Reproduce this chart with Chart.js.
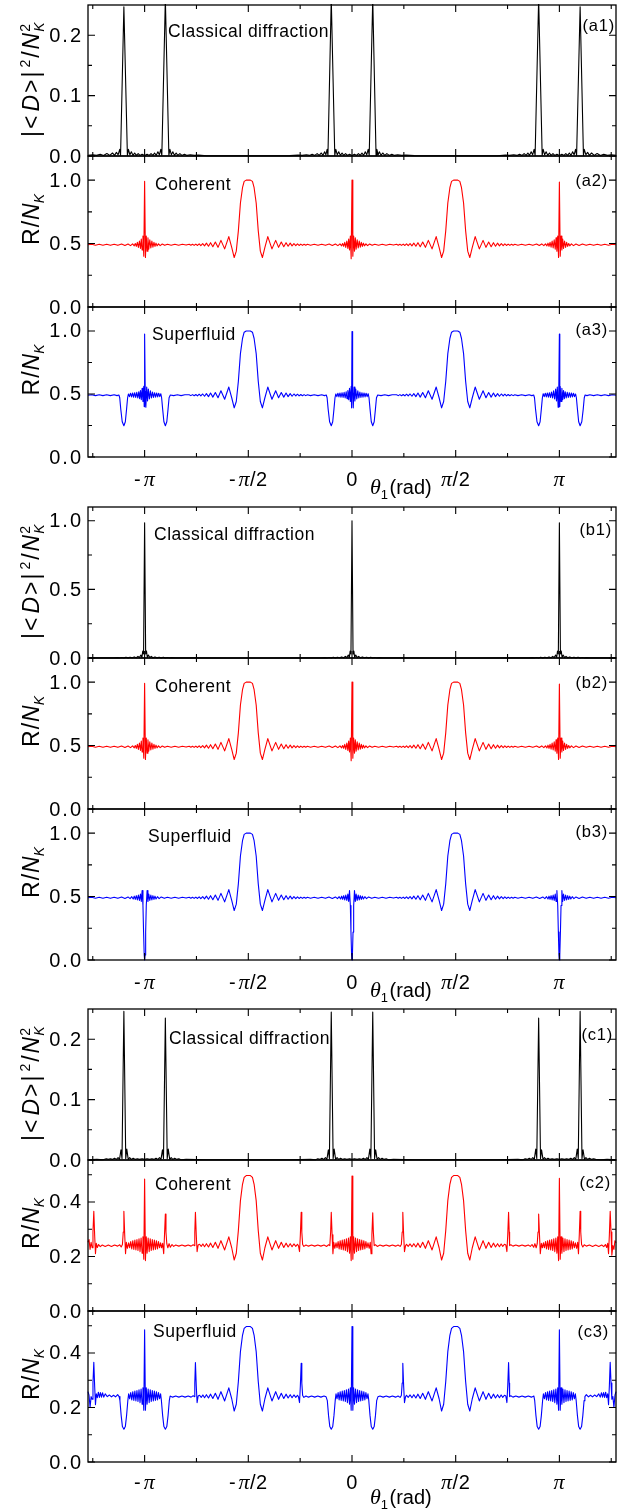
<!DOCTYPE html>
<html>
<head>
<meta charset="utf-8">
<script src="https://cdn.jsdelivr.net/npm/chart.js@4.4.1/dist/chart.umd.min.js"></script>
<style>
html,body{margin:0;padding:0;background:#fff;}
#wrap{position:relative;width:641px;height:1512px;overflow:hidden;background:#fff;}
#wrap canvas{position:absolute;left:0;}
</style>
</head>
<body>
<div id="wrap"></div>
<script>
// theta_1 is stored in units of pi
const X_MIN = -1.273, X_MAX = 1.273;
const xTickVals = [-1.25,-1,-0.75,-0.5,-0.25,0,0.25,0.5,0.75,1,1.25];
const xLabelVals = [-1,-0.5,0,0.5,1];
const xLabelText = ['-π','-π/2','0','π/2','π'];

const yTicksD = {major:[0,0.1,0.2], minor:[0.05,0.15]};
const yTicksR = {major:[0,0.5,1.0], minor:[0.25,0.75]};
const yTicksC = {major:[0,0.2,0.4], minor:[0.1,0.3,0.5]};

// classical diffraction, group a
const a1Pts = [
[-1.273,0.001],[-1.25,0.002],[-1.232,0.001],[-1.214,0.003],[-1.198,0.001],[-1.182,0.004],[-1.168,0.001],[-1.155,0.005],[-1.145,0.001],[-1.136,0.006],[-1.128,0.002],[-1.12,0.011],[-1.116,0.001],
[-1.1,0.247],
[-1.083,0.001],[-1.078,0.011],[-1.071,0.002],[-1.064,0.007],[-1.056,0.001],[-1.048,0.005],[-1.04,0.001],[-1.031,0.004],[-1.022,0.001],[-1.012,0.003],[-1.0,0.001],[-0.988,0.003],[-0.978,0.001],[-0.969,0.004],[-0.96,0.001],[-0.952,0.005],[-0.944,0.001],[-0.936,0.007],[-0.929,0.002],[-0.922,0.011],[-0.917,0.001],
[-0.9,0.26],
[-0.883,0.001],[-0.878,0.011],[-0.871,0.002],[-0.864,0.007],[-0.856,0.001],[-0.848,0.005],[-0.84,0.001],[-0.83,0.004],[-0.82,0.001],[-0.808,0.003],[-0.795,0.001],[-0.78,0.002],[-0.76,0.001],[-0.74,0.0015],[-0.7,0.0005],[-0.6,0.0003],[-0.5,0.0003],[-0.4,0.0003],[-0.3,0.0006],
[-0.26,0.0015],[-0.24,0.001],[-0.22,0.002],[-0.205,0.001],[-0.192,0.003],[-0.18,0.001],[-0.168,0.004],[-0.158,0.001],[-0.148,0.005],[-0.14,0.001],[-0.132,0.007],[-0.126,0.002],[-0.12,0.011],[-0.116,0.001],
[-0.1,0.26],
[-0.083,0.001],[-0.078,0.011],[-0.071,0.002],[-0.064,0.007],[-0.056,0.001],[-0.048,0.005],[-0.04,0.001],[-0.031,0.004],[-0.022,0.001],[-0.012,0.003],[0.0,0.001],[0.012,0.003],[0.022,0.001],[0.031,0.004],[0.04,0.001],[0.048,0.005],[0.056,0.001],[0.064,0.007],[0.071,0.002],[0.078,0.011],[0.083,0.001],
[0.1,0.26],
[0.116,0.001],[0.12,0.011],[0.126,0.002],[0.132,0.007],[0.14,0.001],[0.148,0.005],[0.158,0.001],[0.168,0.004],[0.18,0.001],[0.192,0.003],[0.205,0.001],[0.22,0.002],[0.24,0.001],[0.26,0.0015],[0.3,0.0006],[0.4,0.0003],[0.5,0.0003],[0.6,0.0003],[0.7,0.0005],[0.74,0.0015],[0.76,0.001],[0.78,0.002],[0.795,0.001],[0.808,0.003],[0.82,0.001],[0.83,0.004],[0.84,0.001],[0.848,0.005],[0.856,0.001],[0.864,0.007],[0.871,0.002],[0.878,0.011],[0.883,0.001],
[0.9,0.26],
[0.917,0.001],[0.922,0.011],[0.929,0.002],[0.936,0.007],[0.944,0.001],[0.952,0.005],[0.96,0.001],[0.969,0.004],[0.978,0.001],[0.988,0.003],[1.0,0.001],[1.012,0.003],[1.022,0.001],[1.031,0.004],[1.04,0.001],[1.048,0.005],[1.056,0.001],[1.064,0.007],[1.071,0.002],[1.078,0.011],[1.083,0.001],
[1.1,0.247],
[1.116,0.001],[1.12,0.011],[1.128,0.002],[1.136,0.006],[1.145,0.001],[1.155,0.005],[1.168,0.001],[1.182,0.004],[1.198,0.001],[1.214,0.003],[1.232,0.001],[1.25,0.002],[1.273,0.001]
];

// classical diffraction, group b
const b1Pts = [
[-1.273,0.001],[-1.22,0.001],[-1.18,0.002],[-1.15,0.001],[-1.13,0.003],[-1.12,0.001],[-1.11,0.004],[-1.1,0.001],[-1.09,0.005],[-1.08,0.001],[-1.07,0.006],[-1.06,0.002],[-1.05,0.008],[-1.04,0.002],[-1.032,0.012],[-1.025,0.003],[-1.018,0.022],[-1.013,0.004],[-1.009,0.05],[-1.005,0.03],
[-1.0,0.985],
[-0.995,0.03],[-0.991,0.05],[-0.987,0.004],[-0.982,0.022],[-0.975,0.003],[-0.968,0.012],[-0.96,0.002],[-0.95,0.008],[-0.94,0.002],[-0.93,0.006],[-0.92,0.001],[-0.91,0.005],[-0.9,0.001],[-0.89,0.004],[-0.88,0.001],[-0.87,0.003],[-0.85,0.001],[-0.82,0.002],[-0.78,0.001],[-0.6,0.0005],[-0.4,0.0005],[-0.22,0.001],[-0.18,0.002],[-0.15,0.001],[-0.13,0.003],[-0.12,0.001],[-0.11,0.004],[-0.1,0.001],[-0.09,0.005],[-0.08,0.001],[-0.07,0.006],[-0.06,0.002],[-0.05,0.008],[-0.04,0.002],[-0.032,0.012],[-0.025,0.003],[-0.018,0.022],[-0.013,0.004],[-0.009,0.05],[-0.005,0.03],
[0.0,1.0],
[0.005,0.03],[0.009,0.05],[0.013,0.004],[0.018,0.022],[0.025,0.003],[0.032,0.012],[0.04,0.002],[0.05,0.008],[0.06,0.002],[0.07,0.006],[0.08,0.001],[0.09,0.005],[0.1,0.001],[0.11,0.004],[0.12,0.001],[0.13,0.003],[0.15,0.001],[0.18,0.002],[0.22,0.001],[0.4,0.0005],[0.6,0.0005],[0.78,0.001],[0.82,0.002],[0.85,0.001],[0.87,0.003],[0.88,0.001],[0.89,0.004],[0.9,0.001],[0.91,0.005],[0.92,0.001],[0.93,0.006],[0.94,0.002],[0.95,0.008],[0.96,0.002],[0.968,0.012],[0.975,0.003],[0.982,0.022],[0.987,0.004],[0.991,0.05],[0.995,0.03],
[1.0,0.985],
[1.005,0.03],[1.009,0.05],[1.013,0.004],[1.018,0.022],[1.025,0.003],[1.032,0.012],[1.04,0.002],[1.05,0.008],[1.06,0.002],[1.07,0.006],[1.08,0.001],[1.09,0.005],[1.1,0.001],[1.11,0.004],[1.12,0.001],[1.13,0.003],[1.15,0.001],[1.18,0.002],[1.22,0.001],[1.273,0.001]
];

// classical diffraction, group c
const c1Pts = [
[-1.273,0.0005],[-1.23,0.001],[-1.2,0.0005],[-1.185,0.002],[-1.175,0.001],[-1.165,0.002],[-1.155,0.001],[-1.145,0.003],[-1.136,0.001],[-1.128,0.004],[-1.121,0.001],[-1.114,0.017],[-1.109,0.002],
[-1.1,0.246],
[-1.091,0.002],[-1.086,0.018],[-1.079,0.001],[-1.072,0.004],[-1.064,0.001],[-1.055,0.003],[-1.045,0.001],[-1.035,0.002],[-1.025,0.001],[-1.012,0.002],[-1.0,0.001],[-0.988,0.002],[-0.975,0.001],[-0.965,0.002],[-0.955,0.001],[-0.945,0.003],[-0.936,0.001],[-0.928,0.004],[-0.921,0.001],[-0.914,0.017],[-0.909,0.002],
[-0.9,0.235],
[-0.891,0.002],[-0.886,0.018],[-0.879,0.001],[-0.872,0.004],[-0.864,0.001],[-0.855,0.003],[-0.845,0.001],[-0.835,0.002],[-0.825,0.0005],[-0.8,0.001],[-0.7,0.0005],[-0.5,0.0005],[-0.3,0.0005],[-0.2,0.001],[-0.175,0.0005],[-0.165,0.002],[-0.155,0.001],[-0.145,0.003],[-0.136,0.001],[-0.128,0.004],[-0.121,0.001],[-0.114,0.017],[-0.109,0.002],
[-0.1,0.245],
[-0.091,0.002],[-0.086,0.018],[-0.079,0.001],[-0.072,0.004],[-0.064,0.001],[-0.055,0.003],[-0.045,0.001],[-0.035,0.002],[-0.025,0.001],[-0.012,0.002],[0.0,0.001],[0.012,0.002],[0.025,0.001],[0.035,0.002],[0.045,0.001],[0.055,0.003],[0.064,0.001],[0.072,0.004],[0.079,0.001],[0.086,0.018],[0.091,0.002],
[0.1,0.245],
[0.109,0.002],[0.114,0.017],[0.121,0.001],[0.128,0.004],[0.136,0.001],[0.145,0.003],[0.155,0.001],[0.165,0.002],[0.175,0.0005],[0.2,0.001],[0.3,0.0005],[0.5,0.0005],[0.7,0.0005],[0.8,0.001],[0.825,0.0005],[0.835,0.002],[0.845,0.001],[0.855,0.003],[0.864,0.001],[0.872,0.004],[0.879,0.001],[0.886,0.018],[0.891,0.002],
[0.9,0.235],
[0.909,0.002],[0.914,0.017],[0.921,0.001],[0.928,0.004],[0.936,0.001],[0.945,0.003],[0.955,0.001],[0.965,0.002],[0.975,0.001],[0.988,0.002],[1.0,0.001],[1.012,0.002],[1.025,0.001],[1.035,0.002],[1.045,0.001],[1.055,0.003],[1.064,0.001],[1.072,0.004],[1.079,0.001],[1.086,0.018],[1.091,0.002],
[1.1,0.246],
[1.109,0.002],[1.114,0.017],[1.121,0.001],[1.128,0.004],[1.136,0.001],[1.145,0.003],[1.155,0.001],[1.165,0.002],[1.175,0.001],[1.2,0.0005],[1.23,0.001],[1.273,0.0005]
];

// plateau around -pi/2 and pi/2 (groups a and b)
const plateauNegAB = [
[-0.785,0.494],[-0.777,0.487],[-0.769,0.495],[-0.761,0.486],[-0.753,0.496],[-0.745,0.485],[-0.737,0.498],[-0.729,0.484],[-0.72,0.5],[-0.711,0.482],[-0.702,0.503],[-0.692,0.479],[-0.682,0.507],[-0.671,0.475],[-0.659,0.512],[-0.646,0.47],[-0.632,0.525],[-0.614,0.458],[-0.594,0.555],[-0.58,0.47],[-0.568,0.39],[-0.558,0.44],[-0.548,0.6],[-0.538,0.82],[-0.528,0.94],[-0.52,0.99],[-0.51,1.0],[-0.49,1.0],[-0.48,0.99],[-0.472,0.94],[-0.462,0.82],[-0.452,0.6],[-0.442,0.44],[-0.432,0.39],[-0.42,0.47],[-0.406,0.555],[-0.386,0.458],[-0.368,0.525],[-0.354,0.47],[-0.341,0.512],[-0.329,0.475],[-0.318,0.507],[-0.308,0.479],[-0.298,0.503],[-0.289,0.482],[-0.28,0.5],[-0.271,0.484],[-0.263,0.498],[-0.255,0.485],[-0.247,0.496],[-0.239,0.486],[-0.231,0.495],[-0.223,0.487],[-0.215,0.494]
];
const plateauPosAB = [
[0.215,0.494],[0.223,0.487],[0.231,0.495],[0.239,0.486],[0.247,0.496],[0.255,0.485],[0.263,0.498],[0.271,0.484],[0.28,0.5],[0.289,0.482],[0.298,0.503],[0.308,0.479],[0.318,0.507],[0.329,0.475],[0.341,0.512],[0.354,0.47],[0.368,0.525],[0.386,0.458],[0.406,0.555],[0.42,0.47],[0.432,0.39],[0.442,0.44],[0.452,0.6],[0.462,0.82],[0.472,0.94],[0.48,0.99],[0.49,1.0],[0.51,1.0],[0.52,0.99],[0.528,0.94],[0.538,0.82],[0.548,0.6],[0.558,0.44],[0.568,0.39],[0.58,0.47],[0.594,0.555],[0.614,0.458],[0.632,0.525],[0.646,0.47],[0.659,0.512],[0.671,0.475],[0.682,0.507],[0.692,0.479],[0.702,0.503],[0.711,0.482],[0.72,0.5],[0.729,0.484],[0.737,0.498],[0.745,0.485],[0.753,0.496],[0.761,0.486],[0.769,0.495],[0.777,0.487],[0.785,0.494]
];

// coherent, groups a and b
const coherentAB = [
[-1.273,0.49],[-1.255,0.494],[-1.237,0.487],[-1.219,0.494],[-1.201,0.487],[-1.183,0.495],[-1.165,0.486],[-1.147,0.495],[-1.129,0.486],[-1.111,0.496],[-1.095,0.485],[-1.08,0.497],[-1.068,0.484],[-1.058,0.498],[-1.05,0.482],[-1.045,0.5],[-1.04,0.478],[-1.035,0.51],[-1.03,0.47],[-1.025,0.52],[-1.02,0.462],[-1.016,0.535],[-1.012,0.45],[-1.008,0.56],[-1.004,0.40],[-1.0,0.99],[-0.996,0.39],[-0.992,0.56],[-0.988,0.44],[-0.984,0.545],[-0.98,0.455],[-0.975,0.53],[-0.97,0.465],[-0.965,0.52],[-0.96,0.472],[-0.955,0.51],[-0.95,0.478],[-0.945,0.503],[-0.94,0.482],[-0.933,0.498],[-0.925,0.484],[-0.915,0.496],[-0.903,0.486],[-0.89,0.495],[-0.872,0.487],[-0.854,0.494],[-0.836,0.487],[-0.818,0.494],[-0.8,0.488],
...plateauNegAB,
[-0.2,0.487],[-0.182,0.494],[-0.164,0.487],[-0.146,0.495],[-0.128,0.486],[-0.11,0.496],[-0.095,0.485],[-0.08,0.497],[-0.068,0.484],[-0.058,0.498],[-0.05,0.482],[-0.045,0.5],[-0.04,0.478],[-0.035,0.51],[-0.03,0.47],[-0.025,0.52],[-0.02,0.462],[-0.016,0.535],[-0.012,0.45],[-0.008,0.56],[-0.004,0.38],[0.0,1.0],[0.004,0.40],[0.008,0.56],[0.012,0.44],[0.016,0.545],[0.02,0.455],[0.025,0.53],[0.03,0.465],[0.035,0.52],[0.04,0.472],[0.045,0.51],[0.05,0.478],[0.055,0.503],[0.06,0.482],[0.067,0.498],[0.075,0.484],[0.085,0.496],[0.097,0.486],[0.11,0.495],[0.128,0.487],[0.146,0.494],[0.164,0.487],[0.182,0.494],[0.2,0.488],
...plateauPosAB,
[0.8,0.487],[0.818,0.494],[0.836,0.487],[0.854,0.495],[0.872,0.486],[0.89,0.496],[0.903,0.485],[0.915,0.497],[0.925,0.484],[0.933,0.498],[0.94,0.482],[0.945,0.503],[0.95,0.478],[0.955,0.51],[0.96,0.472],[0.965,0.52],[0.97,0.465],[0.975,0.53],[0.98,0.455],[0.984,0.545],[0.988,0.44],[0.992,0.56],[0.996,0.39],[1.0,0.985],[1.004,0.40],[1.008,0.56],[1.012,0.45],[1.016,0.535],[1.02,0.462],[1.025,0.52],[1.03,0.47],[1.035,0.51],[1.04,0.478],[1.045,0.5],[1.05,0.482],[1.058,0.498],[1.068,0.484],[1.08,0.497],[1.095,0.485],[1.111,0.496],[1.129,0.486],[1.147,0.495],[1.165,0.486],[1.183,0.495],[1.201,0.487],[1.219,0.494],[1.237,0.487],[1.255,0.494],[1.273,0.49]
];

// superfluid, group a
const superA = [
[-1.273,0.49],[-1.255,0.494],[-1.237,0.487],[-1.219,0.494],[-1.201,0.487],[-1.183,0.494],[-1.165,0.487],[-1.147,0.494],[-1.133,0.487],[-1.124,0.492],
[-1.12,0.47],[-1.115,0.38],[-1.108,0.28],[-1.1,0.248],[-1.093,0.28],[-1.087,0.38],[-1.082,0.47],
[-1.078,0.5],[-1.073,0.479],[-1.068,0.506],[-1.063,0.477],[-1.058,0.508],[-1.053,0.474],[-1.048,0.51],[-1.043,0.472],[-1.038,0.513],[-1.033,0.468],[-1.028,0.518],[-1.024,0.462],[-1.02,0.527],[-1.016,0.455],[-1.012,0.545],[-1.008,0.44],[-1.004,0.56],[-1.002,0.4],[-1.0,0.975],[-0.997,0.52],[-0.994,0.395],[-0.99,0.555],[-0.986,0.445],[-0.982,0.54],[-0.977,0.46],[-0.972,0.525],[-0.967,0.468],[-0.962,0.515],[-0.957,0.472],[-0.952,0.51],[-0.947,0.475],[-0.942,0.508],[-0.937,0.477],[-0.932,0.506],[-0.927,0.479],[-0.922,0.502],
[-0.918,0.47],[-0.913,0.38],[-0.907,0.28],[-0.9,0.248],[-0.893,0.28],[-0.887,0.38],[-0.882,0.47],
[-0.876,0.492],[-0.86,0.487],[-0.842,0.494],[-0.824,0.487],[-0.806,0.494],
...plateauNegAB,
[-0.2,0.487],[-0.182,0.494],[-0.164,0.487],[-0.146,0.494],[-0.133,0.487],[-0.124,0.492],
[-0.12,0.47],[-0.115,0.38],[-0.108,0.28],[-0.1,0.248],[-0.093,0.28],[-0.087,0.38],[-0.082,0.47],
[-0.078,0.5],[-0.073,0.479],[-0.068,0.506],[-0.063,0.477],[-0.058,0.508],[-0.053,0.474],[-0.048,0.51],[-0.043,0.472],[-0.038,0.513],[-0.033,0.468],[-0.028,0.518],[-0.024,0.462],[-0.02,0.527],[-0.016,0.455],[-0.012,0.545],[-0.008,0.44],[-0.004,0.56],[-0.002,0.39],[0.0,0.995],[0.003,0.52],[0.006,0.39],[0.01,0.555],[0.014,0.445],[0.018,0.54],[0.023,0.46],[0.028,0.525],[0.033,0.468],[0.038,0.515],[0.043,0.472],[0.048,0.51],[0.053,0.475],[0.058,0.508],[0.063,0.477],[0.068,0.506],[0.073,0.479],[0.078,0.502],
[0.082,0.47],[0.087,0.38],[0.093,0.28],[0.1,0.248],[0.107,0.28],[0.113,0.38],[0.118,0.47],
[0.124,0.492],[0.14,0.487],[0.158,0.494],[0.176,0.487],[0.194,0.494],
...plateauPosAB,
[0.8,0.487],[0.818,0.494],[0.836,0.487],[0.854,0.494],[0.867,0.487],[0.876,0.492],
[0.88,0.47],[0.885,0.38],[0.892,0.28],[0.9,0.248],[0.907,0.28],[0.913,0.38],[0.918,0.47],
[0.922,0.502],[0.927,0.479],[0.932,0.506],[0.937,0.477],[0.942,0.508],[0.947,0.475],[0.952,0.51],[0.957,0.472],[0.962,0.515],[0.967,0.468],[0.972,0.525],[0.977,0.46],[0.982,0.54],[0.986,0.445],[0.99,0.555],[0.994,0.395],[0.997,0.52],[1.0,0.975],[1.002,0.4],[1.004,0.56],[1.008,0.44],[1.012,0.545],[1.016,0.455],[1.02,0.527],[1.024,0.462],[1.028,0.518],[1.033,0.468],[1.038,0.513],[1.043,0.472],[1.048,0.51],[1.053,0.474],[1.058,0.508],[1.063,0.477],[1.068,0.506],[1.073,0.479],[1.078,0.5],
[1.082,0.47],[1.087,0.38],[1.093,0.28],[1.1,0.248],[1.108,0.28],[1.115,0.38],[1.12,0.47],
[1.124,0.492],[1.133,0.487],[1.147,0.494],[1.165,0.487],[1.183,0.494],[1.201,0.487],[1.219,0.494],[1.237,0.487],[1.255,0.494],[1.273,0.49]
];

// superfluid, group b
const superB = [
[-1.273,0.49],[-1.255,0.494],[-1.237,0.487],[-1.219,0.494],[-1.201,0.487],[-1.183,0.495],[-1.165,0.486],[-1.147,0.495],[-1.129,0.486],[-1.111,0.496],[-1.095,0.485],[-1.08,0.497],[-1.07,0.484],[-1.062,0.499],[-1.055,0.481],
[-1.05,0.503],[-1.045,0.478],[-1.04,0.507],[-1.035,0.474],[-1.03,0.512],[-1.025,0.47],[-1.02,0.52],[-1.016,0.462],[-1.012,0.548],[-1.008,0.43],[-1.005,0.22],[-1.002,0.04],[-1.0,0.0],[-0.998,0.04],[-0.995,0.22],[-0.992,0.43],[-0.988,0.548],[-0.984,0.462],[-0.98,0.52],[-0.975,0.47],[-0.97,0.512],[-0.965,0.474],[-0.96,0.507],[-0.955,0.478],[-0.95,0.503],[-0.945,0.481],[-0.938,0.499],[-0.93,0.484],[-0.92,0.497],[-0.905,0.486],
[-0.89,0.495],[-0.872,0.487],[-0.854,0.494],[-0.836,0.487],[-0.818,0.494],[-0.8,0.488],
...plateauNegAB,
[-0.2,0.487],[-0.182,0.494],[-0.164,0.487],[-0.146,0.495],[-0.128,0.486],[-0.111,0.496],[-0.095,0.485],[-0.08,0.497],[-0.07,0.484],[-0.062,0.499],[-0.055,0.481],
[-0.05,0.503],[-0.045,0.478],[-0.04,0.507],[-0.035,0.474],[-0.03,0.512],[-0.025,0.47],[-0.02,0.52],[-0.016,0.462],[-0.012,0.548],[-0.008,0.43],[-0.005,0.22],[-0.002,0.04],[0.0,0.0],[0.002,0.04],[0.005,0.22],[0.008,0.43],[0.012,0.548],[0.016,0.462],[0.02,0.52],[0.025,0.47],[0.03,0.512],[0.035,0.474],[0.04,0.507],[0.045,0.478],[0.05,0.503],[0.055,0.481],[0.062,0.499],[0.07,0.484],[0.08,0.497],[0.095,0.486],
[0.11,0.495],[0.128,0.487],[0.146,0.494],[0.164,0.487],[0.182,0.494],[0.2,0.488],
...plateauPosAB,
[0.8,0.487],[0.818,0.494],[0.836,0.487],[0.854,0.495],[0.872,0.486],[0.889,0.496],[0.905,0.485],[0.92,0.497],[0.93,0.484],[0.938,0.499],[0.945,0.481],
[0.95,0.503],[0.955,0.478],[0.96,0.507],[0.965,0.474],[0.97,0.512],[0.975,0.47],[0.98,0.52],[0.984,0.462],[0.988,0.548],[0.992,0.43],[0.995,0.22],[0.998,0.04],[1.0,0.0],[1.002,0.04],[1.005,0.22],[1.008,0.43],[1.012,0.548],[1.016,0.462],[1.02,0.52],[1.025,0.47],[1.03,0.512],[1.035,0.474],[1.04,0.507],[1.045,0.478],[1.05,0.503],[1.055,0.481],[1.062,0.499],[1.07,0.484],[1.08,0.497],[1.095,0.485],[1.111,0.496],[1.129,0.486],[1.147,0.495],[1.165,0.486],[1.183,0.495],[1.201,0.487],[1.219,0.494],[1.237,0.487],[1.255,0.494],[1.273,0.49]
];

// plateau around -pi/2 and pi/2 (group c)
const plateauNegC = [
[-0.742,0.242],[-0.735,0.245],[-0.727,0.237],[-0.719,0.246],[-0.711,0.236],[-0.702,0.247],[-0.692,0.235],[-0.682,0.249],[-0.671,0.233],[-0.659,0.252],[-0.646,0.23],[-0.632,0.258],[-0.614,0.224],[-0.594,0.272],[-0.58,0.232],[-0.568,0.187],[-0.558,0.212],[-0.548,0.295],[-0.538,0.405],[-0.528,0.465],[-0.52,0.49],[-0.51,0.497],[-0.49,0.497],[-0.48,0.49],[-0.472,0.465],[-0.462,0.405],[-0.452,0.295],[-0.442,0.212],[-0.432,0.187],[-0.42,0.232],[-0.406,0.272],[-0.386,0.224],[-0.368,0.258],[-0.354,0.23],[-0.341,0.252],[-0.329,0.233],[-0.318,0.249],[-0.308,0.235],[-0.298,0.247],[-0.289,0.236],[-0.28,0.246],[-0.271,0.237],[-0.263,0.245],[-0.258,0.239]
];
const plateauPosC = [
[0.258,0.239],[0.263,0.245],[0.271,0.237],[0.28,0.246],[0.289,0.236],[0.298,0.247],[0.308,0.235],[0.318,0.249],[0.329,0.233],[0.341,0.252],[0.354,0.23],[0.368,0.258],[0.386,0.224],[0.406,0.272],[0.42,0.232],[0.432,0.187],[0.442,0.212],[0.452,0.295],[0.462,0.405],[0.472,0.465],[0.48,0.49],[0.49,0.497],[0.51,0.497],[0.52,0.49],[0.528,0.465],[0.538,0.405],[0.548,0.295],[0.558,0.212],[0.568,0.187],[0.58,0.232],[0.594,0.272],[0.614,0.224],[0.632,0.258],[0.646,0.23],[0.659,0.252],[0.671,0.233],[0.682,0.249],[0.692,0.235],[0.702,0.247],[0.711,0.236],[0.719,0.246],[0.727,0.237],[0.735,0.245],[0.742,0.242]
];

// coherent, group c
const coherentC = [
[-1.273,0.252],[-1.268,0.262],[-1.263,0.226],[-1.258,0.252],[-1.253,0.232],[-1.249,0.29],[-1.245,0.366],[-1.241,0.28],[-1.237,0.21],[-1.233,0.248],[-1.228,0.233],[-1.222,0.244],[-1.214,0.236],[-1.204,0.242],[-1.19,0.237],[-1.175,0.242],[-1.16,0.237],[-1.145,0.242],[-1.13,0.238],[-1.12,0.243],[-1.113,0.235],[-1.107,0.244],[-1.103,0.29],[-1.1,0.366],[-1.096,0.28],[-1.092,0.21],
[-1.088,0.252],[-1.083,0.23],[-1.077,0.25],[-1.072,0.232],[-1.067,0.255],[-1.062,0.228],[-1.057,0.258],[-1.052,0.226],[-1.047,0.26],[-1.042,0.224],[-1.037,0.262],[-1.032,0.222],[-1.027,0.265],[-1.022,0.218],[-1.017,0.268],[-1.012,0.212],[-1.008,0.272],[-1.004,0.19],[-1.0,0.484],[-0.996,0.185],[-0.992,0.272],[-0.988,0.212],[-0.983,0.268],[-0.978,0.218],[-0.973,0.265],[-0.968,0.222],[-0.963,0.262],[-0.958,0.224],[-0.953,0.26],[-0.948,0.226],[-0.943,0.258],[-0.938,0.228],[-0.933,0.255],[-0.928,0.232],[-0.923,0.25],[-0.918,0.232],[-0.913,0.248],
[-0.908,0.21],[-0.904,0.28],[-0.9,0.356],[-0.897,0.29],[-0.893,0.246],[-0.888,0.232],[-0.882,0.247],[-0.876,0.234],[-0.868,0.244],[-0.86,0.237],[-0.85,0.242],[-0.835,0.238],[-0.82,0.242],[-0.805,0.238],[-0.79,0.242],[-0.776,0.238],[-0.766,0.243],[-0.76,0.24],[-0.758,0.29],[-0.755,0.362],[-0.751,0.28],[-0.747,0.218],
...plateauNegC,
[-0.253,0.218],[-0.249,0.28],[-0.245,0.362],[-0.242,0.29],[-0.238,0.244],[-0.232,0.237],[-0.222,0.242],[-0.21,0.238],[-0.195,0.242],[-0.18,0.238],[-0.165,0.242],[-0.15,0.238],[-0.135,0.242],[-0.122,0.237],[-0.113,0.243],[-0.107,0.24],[-0.103,0.29],[-0.1,0.362],[-0.096,0.28],[-0.092,0.21],
[-0.088,0.252],[-0.083,0.23],[-0.077,0.25],[-0.072,0.232],[-0.067,0.255],[-0.062,0.228],[-0.057,0.258],[-0.052,0.226],[-0.047,0.26],[-0.042,0.224],[-0.037,0.262],[-0.032,0.222],[-0.027,0.265],[-0.022,0.218],[-0.017,0.268],[-0.012,0.212],[-0.008,0.272],[-0.004,0.185],[0.0,0.495],[0.004,0.19],[0.008,0.272],[0.012,0.212],[0.017,0.268],[0.022,0.218],[0.027,0.265],[0.032,0.222],[0.037,0.262],[0.042,0.224],[0.047,0.26],[0.052,0.226],[0.057,0.258],[0.062,0.228],[0.067,0.255],[0.072,0.232],[0.077,0.25],[0.083,0.23],[0.088,0.252],
[0.092,0.21],[0.096,0.28],[0.1,0.36],[0.103,0.29],[0.107,0.24],[0.113,0.243],[0.122,0.237],[0.135,0.242],[0.15,0.238],[0.165,0.242],[0.18,0.238],[0.195,0.242],[0.21,0.238],[0.222,0.242],[0.232,0.237],
[0.238,0.244],[0.242,0.29],[0.245,0.362],[0.249,0.28],[0.253,0.218],
...plateauPosC,
[0.747,0.218],[0.751,0.28],[0.755,0.362],[0.758,0.29],[0.76,0.24],[0.766,0.243],[0.776,0.238],[0.79,0.242],[0.805,0.238],[0.82,0.242],[0.835,0.238],[0.85,0.242],[0.86,0.237],[0.868,0.244],[0.876,0.234],[0.882,0.247],[0.888,0.232],[0.893,0.246],[0.897,0.29],[0.9,0.356],[0.904,0.28],[0.908,0.21],
[0.913,0.248],[0.918,0.232],[0.923,0.25],[0.928,0.232],[0.933,0.255],[0.938,0.228],[0.943,0.258],[0.948,0.226],[0.953,0.26],[0.958,0.224],[0.963,0.262],[0.968,0.222],[0.973,0.265],[0.978,0.218],[0.983,0.268],[0.988,0.212],[0.992,0.272],[0.996,0.185],[1.0,0.487],[1.004,0.19],[1.008,0.272],[1.012,0.212],[1.017,0.268],[1.022,0.218],[1.027,0.265],[1.032,0.222],[1.037,0.262],[1.042,0.224],[1.047,0.26],[1.052,0.226],[1.057,0.258],[1.062,0.228],[1.067,0.255],[1.072,0.232],[1.077,0.25],[1.083,0.23],[1.088,0.252],
[1.092,0.21],[1.096,0.28],[1.1,0.366],[1.103,0.29],[1.107,0.244],[1.113,0.235],[1.12,0.243],[1.13,0.238],[1.145,0.242],[1.16,0.237],[1.175,0.242],[1.19,0.237],[1.204,0.242],[1.214,0.236],[1.222,0.244],[1.228,0.233],[1.233,0.248],[1.237,0.21],[1.241,0.28],[1.245,0.366],[1.249,0.29],[1.253,0.205],[1.258,0.24],[1.263,0.226],[1.268,0.258],[1.273,0.25]
];

// superfluid, group c
const superC = [
[-1.273,0.258],[-1.268,0.245],[-1.263,0.2],[-1.258,0.24],[-1.253,0.23],[-1.249,0.29],[-1.245,0.366],[-1.241,0.28],[-1.237,0.21],[-1.233,0.25],[-1.228,0.236],[-1.223,0.256],[-1.218,0.237],[-1.213,0.255],[-1.208,0.238],[-1.203,0.254],[-1.197,0.238],[-1.19,0.25],[-1.18,0.24],[-1.17,0.246],[-1.16,0.239],[-1.15,0.245],[-1.14,0.239],[-1.13,0.247],[-1.123,0.24],
[-1.119,0.225],[-1.113,0.17],[-1.107,0.13],[-1.1,0.12],[-1.093,0.13],[-1.087,0.17],[-1.081,0.225],
[-1.077,0.25],[-1.072,0.232],[-1.067,0.255],[-1.062,0.228],[-1.057,0.258],[-1.052,0.226],[-1.047,0.26],[-1.042,0.224],[-1.037,0.262],[-1.032,0.222],[-1.027,0.265],[-1.022,0.218],[-1.017,0.268],[-1.012,0.212],[-1.008,0.272],[-1.004,0.19],[-1.0,0.485],[-0.996,0.19],[-0.992,0.272],[-0.988,0.212],[-0.983,0.268],[-0.978,0.218],[-0.973,0.265],[-0.968,0.222],[-0.963,0.262],[-0.958,0.224],[-0.953,0.26],[-0.948,0.226],[-0.943,0.258],[-0.938,0.228],[-0.933,0.255],[-0.928,0.232],[-0.923,0.25],
[-0.919,0.225],[-0.913,0.17],[-0.907,0.13],[-0.9,0.12],[-0.893,0.13],[-0.887,0.17],[-0.881,0.225],
[-0.877,0.242],[-0.865,0.238],[-0.85,0.242],[-0.835,0.238],[-0.82,0.242],[-0.805,0.238],[-0.79,0.242],[-0.776,0.238],[-0.766,0.243],[-0.76,0.24],[-0.758,0.29],[-0.755,0.365],[-0.751,0.28],[-0.747,0.218],
...plateauNegC,
[-0.253,0.218],[-0.249,0.28],[-0.245,0.362],[-0.242,0.29],[-0.238,0.244],[-0.232,0.237],[-0.222,0.242],[-0.21,0.238],[-0.195,0.242],[-0.18,0.238],[-0.165,0.242],[-0.15,0.238],[-0.135,0.242],[-0.125,0.239],
[-0.119,0.225],[-0.113,0.17],[-0.107,0.13],[-0.1,0.12],[-0.093,0.13],[-0.087,0.17],[-0.081,0.225],
[-0.077,0.25],[-0.072,0.232],[-0.067,0.255],[-0.062,0.228],[-0.057,0.258],[-0.052,0.226],[-0.047,0.26],[-0.042,0.224],[-0.037,0.262],[-0.032,0.222],[-0.027,0.265],[-0.022,0.218],[-0.017,0.268],[-0.012,0.212],[-0.008,0.272],[-0.004,0.19],[0.0,0.497],[0.004,0.19],[0.008,0.272],[0.012,0.212],[0.017,0.268],[0.022,0.218],[0.027,0.265],[0.032,0.222],[0.037,0.262],[0.042,0.224],[0.047,0.26],[0.052,0.226],[0.057,0.258],[0.062,0.228],[0.067,0.255],[0.072,0.232],[0.077,0.25],
[0.081,0.225],[0.087,0.17],[0.093,0.13],[0.1,0.12],[0.107,0.13],[0.113,0.17],[0.119,0.225],
[0.125,0.239],[0.135,0.242],[0.15,0.238],[0.165,0.242],[0.18,0.238],[0.195,0.242],[0.21,0.238],[0.222,0.242],[0.232,0.237],
[0.238,0.244],[0.242,0.29],[0.245,0.362],[0.249,0.28],[0.253,0.218],
...plateauPosC,
[0.747,0.218],[0.751,0.28],[0.755,0.365],[0.758,0.29],[0.76,0.24],[0.766,0.243],[0.776,0.238],[0.79,0.242],[0.805,0.238],[0.82,0.242],[0.835,0.238],[0.85,0.242],[0.865,0.238],[0.877,0.242],
[0.881,0.225],[0.887,0.17],[0.893,0.13],[0.9,0.12],[0.907,0.13],[0.913,0.17],[0.919,0.225],
[0.923,0.25],[0.928,0.232],[0.933,0.255],[0.938,0.228],[0.943,0.258],[0.948,0.226],[0.953,0.26],[0.958,0.224],[0.963,0.262],[0.968,0.222],[0.973,0.265],[0.978,0.218],[0.983,0.268],[0.988,0.212],[0.992,0.272],[0.996,0.19],[1.0,0.485],[1.004,0.19],[1.008,0.272],[1.012,0.212],[1.017,0.268],[1.022,0.218],[1.027,0.265],[1.032,0.222],[1.037,0.262],[1.042,0.224],[1.047,0.26],[1.052,0.226],[1.057,0.258],[1.062,0.228],[1.067,0.255],[1.072,0.232],[1.077,0.25],
[1.081,0.225],[1.087,0.17],[1.093,0.13],[1.1,0.12],[1.107,0.13],[1.113,0.17],[1.119,0.225],
[1.123,0.24],[1.13,0.247],[1.14,0.239],[1.15,0.245],[1.16,0.239],[1.17,0.246],[1.18,0.24],[1.19,0.25],[1.197,0.238],[1.203,0.254],[1.208,0.238],[1.213,0.255],[1.218,0.237],[1.223,0.256],[1.228,0.236],[1.233,0.25],[1.237,0.21],[1.241,0.28],[1.245,0.366],[1.249,0.29],[1.253,0.23],[1.258,0.24],[1.263,0.2],[1.268,0.245],[1.273,0.258]
];

// layout of the nine stacked panels (page coordinates)
const panels = [
  {data:a1Pts, color:'#000', top:5, h:151, ymax:0.25, yt:yTicksD, title:'D', note:'Classical diffraction', nx:168, ny:37, tag:'(a1)', tx:615, ty:31},
  {data:coherentAB, color:'#ff0000', top:156, h:151, ymax:1.19, yt:yTicksR, title:'R', note:'Coherent', nx:155, ny:190, tag:'(a2)', tx:608, ty:186},
  {data:superA, color:'#0000ff', top:307, h:150, ymax:1.19, yt:yTicksR, title:'R', note:'Superfluid', nx:152, ny:340, tag:'(a3)', tx:608, ty:335, bottom:true, xtY:29, ttY:37},
  {data:b1Pts, color:'#000', top:507, h:151, ymax:1.1, yt:yTicksR, title:'D', note:'Classical diffraction', nx:154, ny:540, tag:'(b1)', tx:612, ty:535},
  {data:coherentAB, color:'#ff0000', top:658, h:151, ymax:1.19, yt:yTicksR, title:'R', note:'Coherent', nx:155, ny:692, tag:'(b2)', tx:608, ty:688},
  {data:superB, color:'#0000ff', top:809, h:151, ymax:1.19, yt:yTicksR, title:'R', note:'Superfluid', nx:148, ny:842, tag:'(b3)', tx:608, ty:837, bottom:true, xtY:29, ttY:37},
  {data:c1Pts, color:'#000', top:1009, h:151, ymax:0.25, yt:yTicksD, title:'D', note:'Classical diffraction', nx:169, ny:1044, tag:'(c1)', tx:613, ty:1040},
  {data:coherentC, color:'#ff0000', top:1160, h:151, ymax:0.554, yt:yTicksC, title:'R', note:'Coherent', nx:155, ny:1190, tag:'(c2)', tx:611, ty:1188},
  {data:superC, color:'#0000ff', top:1311, h:151, ymax:0.554, yt:yTicksC, title:'R', note:'Superfluid', nx:153, ny:1337, tag:'(c3)', tx:609, ty:1337, bottom:true, xtY:27, ttY:42}
];

const SANS = '"Liberation Sans", Arial, sans-serif';
const GREEK = '"Liberation Serif", "DejaVu Serif", serif';

// part: [text, font, dy, noAdvance, extraGap, letterSpacing]
function partsWidth(ctx, parts) {
  let w = 0;
  parts.forEach(p => {
    ctx.font = p[1];
    ctx.letterSpacing = (p[5] || 0) + 'px';
    if (!p[3]) w += ctx.measureText(p[0]).width + (p[4] || 0);
  });
  ctx.letterSpacing = '0px';
  return w;
}
function drawParts(ctx, parts, x, y) {
  let cx = x;
  parts.forEach(p => {
    ctx.font = p[1];
    ctx.letterSpacing = (p[5] || 0) + 'px';
    ctx.fillText(p[0], cx, y + (p[2] || 0));
    if (!p[3]) cx += ctx.measureText(p[0]).width + (p[4] || 0);
  });
  ctx.letterSpacing = '0px';
}
function tickParts(s) {
  const out = [];
  for (const ch of s) {
    if (ch === 'π') out.push([ch, 'italic 22px ' + GREEK, 0, false, 0.5]);
    else if (ch === '-') out.push([ch, '20px ' + SANS, 0, false, 3]);
    else out.push([ch, '20px ' + SANS, 0, false, 0.5]);
  }
  return out;
}
function yTitleParts(kind) {
  const big = '23px ' + SANS, bigI = 'italic 23px ' + SANS;
  const sm = '14px ' + SANS, smI = 'italic 14px ' + SANS;
  if (kind === 'D') {
    return [['|<', big, 0, false, 2, 2], ['D', bigI, 0, false, 2], ['>|', big, 0, false, 2, 2], ['2', sm, -9, false, 2], ['/', big, 0, false, 2], ['N', bigI, 0, false, 1], ['K', smI, 5, true], ['2', sm, -9]];
  }
  return [['R', big, 0, false, 1], ['/', big, 0, false, 1], ['N', bigI, 0, false, 0], ['K', smI, 5]];
}

const framePlugin = {
  id: 'frame',
  afterDraw(chart) {
    const p = chart.canvas._panel;
    const off = chart.canvas._offset;
    const ctx = chart.ctx;
    const xs = chart.scales.x, ys = chart.scales.y;
    const a = chart.chartArea;
    ctx.save();
    ctx.strokeStyle = '#000';
    ctx.lineWidth = 1.3;
    ctx.strokeRect(a.left, a.top, a.right - a.left, a.bottom - a.top);
    ctx.lineWidth = 1.1;
    ctx.beginPath();
    xTickVals.forEach(v => {
      const x = xs.getPixelForValue(v);
      const len = xLabelVals.includes(v) ? 7 : 4;
      ctx.moveTo(x, a.top); ctx.lineTo(x, a.top + len);
      ctx.moveTo(x, a.bottom); ctx.lineTo(x, a.bottom - len);
    });
    p.yt.major.forEach(v => {
      const y = ys.getPixelForValue(v);
      ctx.moveTo(a.left, y); ctx.lineTo(a.left + 7, y);
      ctx.moveTo(a.right, y); ctx.lineTo(a.right - 7, y);
    });
    p.yt.minor.forEach(v => {
      const y = ys.getPixelForValue(v);
      ctx.moveTo(a.left, y); ctx.lineTo(a.left + 4, y);
      ctx.moveTo(a.right, y); ctx.lineTo(a.right - 4, y);
    });
    ctx.stroke();

    ctx.fillStyle = '#000';
    // y tick labels
    ctx.font = '20px ' + SANS;
    ctx.letterSpacing = '2px';
    ctx.textAlign = 'right';
    ctx.textBaseline = 'middle';
    p.yt.major.forEach(v => ctx.fillText(v.toFixed(1), a.left - 5, ys.getPixelForValue(v) + 1));
    ctx.letterSpacing = '0px';

    ctx.textAlign = 'left';
    ctx.textBaseline = 'alphabetic';
    // y title, rotated
    const parts = yTitleParts(p.title);
    const cy = (a.top + a.bottom) / 2 + (p.title === 'R' ? -12 : 0);
    ctx.save();
    ctx.translate(39, cy);
    ctx.rotate(-Math.PI / 2);
    drawParts(ctx, parts, -partsWidth(ctx, parts) / 2, 0);
    ctx.restore();

    // curve name and panel tag
    ctx.font = '17.5px ' + SANS;
    ctx.letterSpacing = '0.5px';
    ctx.fillText(p.note, p.nx, p.ny - off);
    ctx.font = '16.5px ' + SANS;
    ctx.letterSpacing = '0.8px';
    ctx.textAlign = 'right';
    ctx.fillText(p.tag, p.tx, p.ty - off);
    ctx.letterSpacing = '0px';
    ctx.textAlign = 'left';

    if (p.bottom) {
      xLabelVals.forEach((v, i) => {
        const tp = tickParts(xLabelText[i]);
        const w = partsWidth(ctx, tp);
        drawParts(ctx, tp, xs.getPixelForValue(v) - w / 2, a.bottom + p.xtY);
      });
      drawParts(ctx, [['θ', 'italic 22px ' + GREEK], ['1', '13px ' + SANS, 5, false, 1.5], ['(rad)', '20px ' + SANS]], 370, a.bottom + p.ttY);
    }
    ctx.restore();
  }
};

const wrap = document.getElementById('wrap');
panels.forEach(p => {
  const padTop = 20, padBot = p.bottom ? 70 : 20;
  const cv = document.createElement('canvas');
  cv.width = 641;
  cv.height = p.h + padTop + padBot;
  cv.style.width = '641px';
  cv.style.height = cv.height + 'px';
  cv.style.top = (p.top - padTop) + 'px';
  cv._panel = p;
  cv._offset = p.top - padTop;
  wrap.appendChild(cv);
  new Chart(cv, {
    type: 'line',
    data: {
      datasets: [{
        data: p.data,
        borderColor: p.color,
        borderWidth: 1.1,
        pointRadius: 0,
        tension: 0,
        fill: false,
        borderJoinStyle: 'round',
        clip: 1
      }]
    },
    options: {
      responsive: false,
      animation: false,
      devicePixelRatio: 1,
      events: [],
      layout: {padding: {left: 88, right: 25, top: padTop, bottom: padBot}},
      scales: {
        x: {type: 'linear', min: X_MIN, max: X_MAX, display: false},
        y: {type: 'linear', min: 0, max: p.ymax, display: false}
      },
      plugins: {legend: {display: false}, tooltip: {enabled: false}}
    },
    plugins: [framePlugin]
  });
});
</script>
</body>
</html>
